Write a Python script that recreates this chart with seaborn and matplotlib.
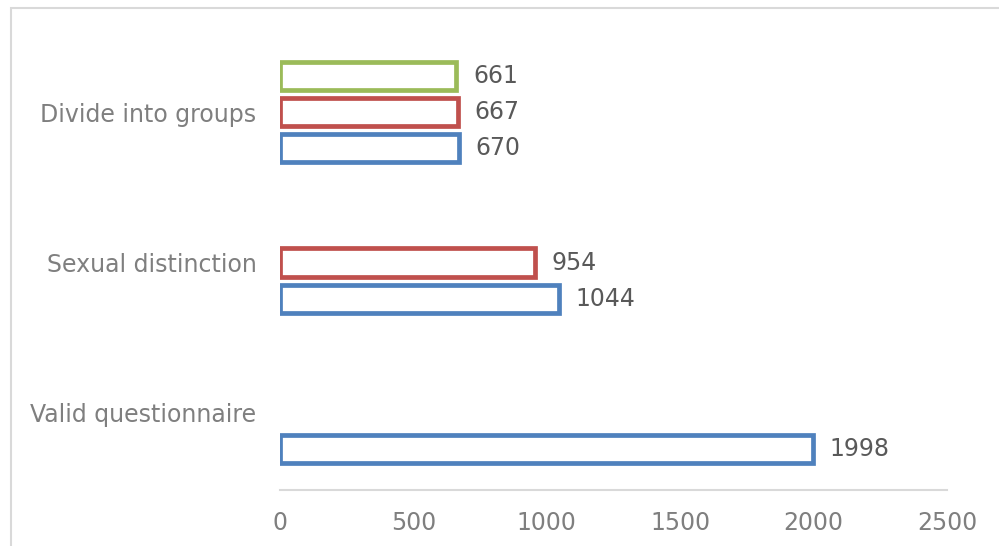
import matplotlib
matplotlib.use("Agg")
import matplotlib.pyplot as plt
import seaborn as sns
import pandas as pd
import numpy as np
from matplotlib.patches import Rectangle

categories = ["Divide into groups", "Sexual distinction", "Valid questionnaire"]
series_names = ["S3", "S2", "S1"]  # drawn top to bottom within each group
s1_values = [670, 1044, 1998]     # blue
s2_values = [667, 954, np.nan]    # red
s3_values = [661, np.nan, np.nan] # green
x_ticks = [0, 500, 1000, 1500, 2000, 2500]

colors = {"S1": "#4F81BD", "S2": "#C0504D", "S3": "#9BBB59"}

rows = []
for name, vals in zip(["S1", "S2", "S3"], [s1_values, s2_values, s3_values]):
    for c, v in zip(categories, vals):
        rows.append({"category": c, "series": name, "value": v})
df = pd.DataFrame(rows)

sns.set_theme(style="white")
plt.rcParams["font.family"] = ["DejaVu Sans"]

fig = plt.figure(figsize=(9.99, 5.46), dpi=100)
ax = fig.add_axes([280 / 999, 1 - 490 / 546, (947 - 280) / 999, (490 - 35) / 546])

sns.barplot(data=df, y="category", x="value", hue="series", order=categories,
            hue_order=series_names, palette=colors, orient="h", width=0.72,
            gap=0.22, fill=False, linewidth=3.4, ax=ax, legend=False, errorbar=None)

for cont in ax.containers:
    labels = []
    for bar in cont:
        w = bar.get_width()
        labels.append("" if (w is None or np.isnan(w) or w == 0) else f"{int(round(w))}")
    ax.bar_label(cont, labels=labels, padding=12, color="#595959", fontsize=17)

ax.set_xlim(0, 2500)
ax.set_ylim(2.512, -0.512)
ax.set_xticks(x_ticks)
ax.set_xticklabels([str(t) for t in x_ticks])
ax.set_xlabel("")
ax.set_ylabel("")
ax.tick_params(axis="x", length=0, pad=15, labelsize=17, labelcolor="#7F7F7F")
ax.tick_params(axis="y", length=0, pad=17, labelsize=17, labelcolor="#7F7F7F")
for s in ["top", "right", "left"]:
    ax.spines[s].set_visible(False)
ax.spines["bottom"].set_color("#D9D9D9")
ax.spines["bottom"].set_linewidth(1.5)
ax.grid(False)
ax.set_facecolor("none")

fig.patches.append(Rectangle((10.5 / 999, -0.1), 1.2, 1.1 - 7.5 / 546,
                             transform=fig.transFigure, fill=False,
                             edgecolor="#D9D9D9", linewidth=1.5, zorder=-1))

fig.savefig("out.png", dpi=100)
